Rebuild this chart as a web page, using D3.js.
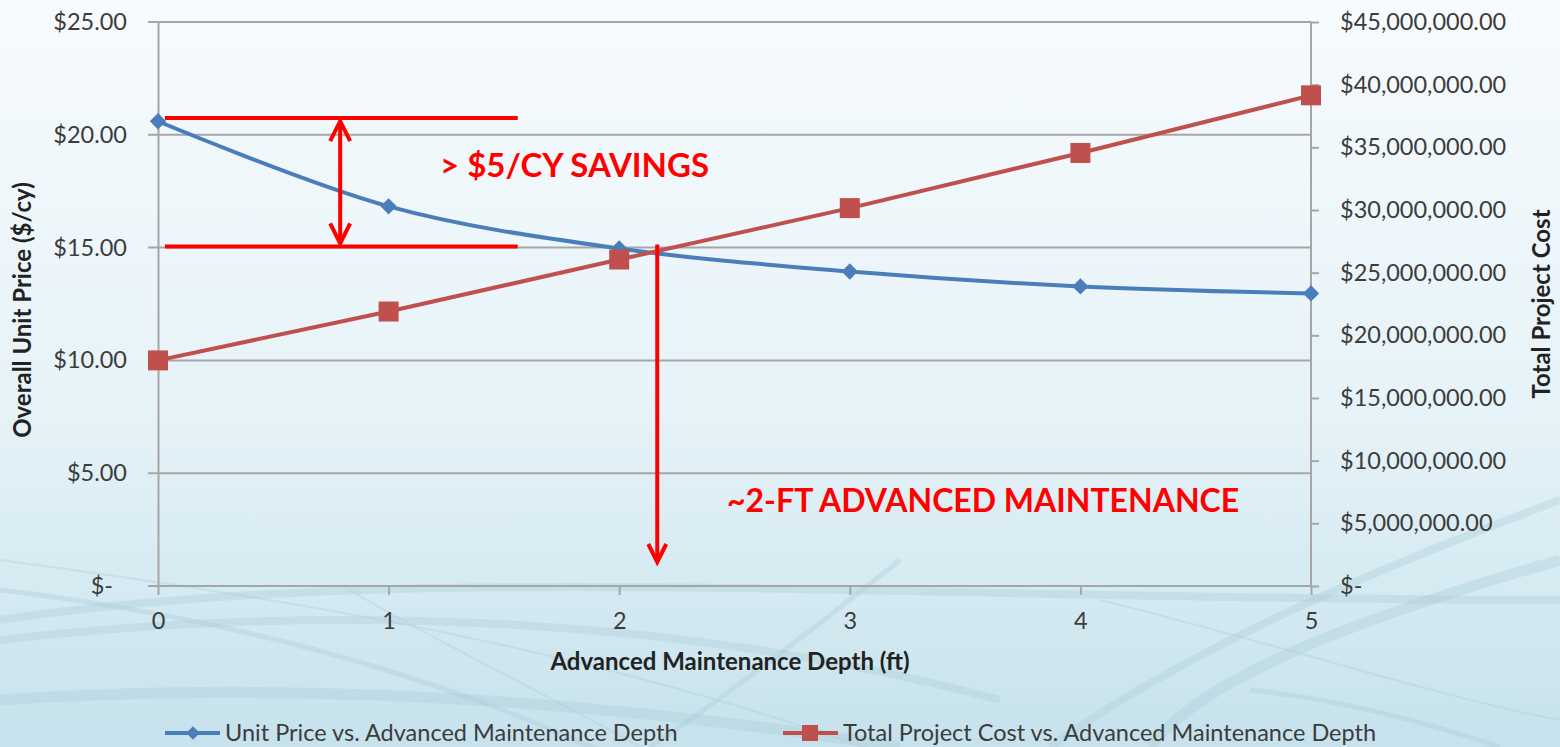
<!DOCTYPE html>
<html>
<head>
<meta charset="utf-8">
<script src="https://cdn.jsdelivr.net/npm/d3@7"></script>
<style>
  body { margin: 0; overflow: hidden; }
  text { font-family: Lato, "Open Sans", sans-serif; }
</style>
</head>
<body>
<svg id="chart" width="1560" height="747"></svg>
<script>
// data
const depths = [0, 1, 2, 3, 4, 5];
const unitPrice = [20.6, 16.83, 14.96, 13.94, 13.28, 12.97];
const projectCost = [18000000, 21900000, 26050000, 30150000, 34550000, 39150000];
const leftTicks = [0, 5, 10, 15, 20, 25];
const rightTicks = [0, 5e6, 10e6, 15e6, 20e6, 25e6, 30e6, 35e6, 40e6, 45e6];
const seriesNames = ["Unit Price vs. Advanced Maintenance Depth", "Total Project Cost vs. Advanced Maintenance Depth"];

// annotations (in data units)
const savingsTop = 20.74, savingsBottom = 15.05;
const savingsArrowX = 0.79;
const savingsLineX = [0.03, 1.56];
const depthArrowX = 2.165;

const W = 1560, H = 747;
const margin = { top: 22, right: 249, bottom: 161, left: 158 };
const blue = "#4a7ebb", red = "#c0504d";
const tickFont = 23.5, titleFont = 24;

const svg = d3.select("#chart");

// background
const defs = svg.append("defs");
const bg = defs.append("linearGradient").attr("id", "bg").attr("x1", 0).attr("y1", 0).attr("x2", 0).attr("y2", 1);
bg.append("stop").attr("offset", "0").attr("stop-color", "#f7fbfd");
bg.append("stop").attr("offset", "0.55").attr("stop-color", "#e6f3f8");
bg.append("stop").attr("offset", "1").attr("stop-color", "#c6e2ec");
svg.append("rect").attr("width", W).attr("height", H).attr("fill", "url(#bg)");

// faint swooshes
const swoosh = svg.append("g").attr("fill", "none").attr("stroke", "#a9cbd8");
const swooshPaths = [
  "M0,560 C300,600 600,650 900,760",
  "M0,590 C250,620 450,680 620,760",
  "M0,640 C350,600 700,620 1000,700",
  "M0,700 C300,680 600,700 900,747",
  "M350,590 C450,650 560,700 640,747",
  "M900,560 C800,640 720,700 650,747",
  "M1560,500 C1400,560 1200,640 1050,747",
  "M1560,560 C1350,620 1200,680 1150,747",
  "M1100,600 C1300,650 1450,700 1560,720",
  "M1250,690 C1350,700 1450,730 1500,747",
  "M0,620 C400,560 900,600 1560,600"
];
swoosh.selectAll("path").data(swooshPaths).enter().append("path")
  .attr("d", d => d)
  .attr("stroke-width", (d, i) => 2 + (i % 4) * 3)
  .attr("stroke-opacity", 0.35);

const x = d3.scaleLinear().domain([0, 5]).range([margin.left, W - margin.right]);
const yL = d3.scaleLinear().domain([0, 25]).range([H - margin.bottom, margin.top]);
const yR = d3.scaleLinear().domain([0, 45e6]).range([H - margin.bottom, margin.top]);

const fmtL = d => d === 0 ? "$-" : "$" + d3.format(".2f")(d);
const fmtR = d => d === 0 ? "$-" : "$" + d3.format(",.2f")(d);

// gridlines
svg.append("g").selectAll("line").data(leftTicks).enter().append("line")
  .attr("x1", x(0) - 10).attr("x2", x(5))
  .attr("y1", d => yL(d)).attr("y2", d => yL(d))
  .attr("stroke", "#a6a6a6").attr("stroke-width", 2);

// left axis
const left = svg.append("g").attr("transform", `translate(${x(0)},0)`)
  .call(d3.axisLeft(yL).tickValues(leftTicks).tickFormat(fmtL).tickSize(0).tickPadding(31));
left.select(".domain").attr("stroke", "#a6a6a6").attr("stroke-width", 2);
left.selectAll("text").attr("font-size", tickFont).attr("fill", "#3c3c3c")
  .attr("dx", d => d === 0 ? -14 : 0);

// right axis
const right = svg.append("g").attr("transform", `translate(${x(5)},0)`)
  .call(d3.axisRight(yR).tickValues(rightTicks).tickFormat(fmtR).tickSize(8).tickPadding(21));
right.select(".domain").attr("stroke", "#a6a6a6").attr("stroke-width", 2).attr("d", `M0,${yR(45e6)}V${yR(0)}`);
right.selectAll(".tick line").attr("stroke", "#a6a6a6").attr("stroke-width", 2);
right.selectAll("text").attr("font-size", tickFont).attr("fill", "#3c3c3c");

// bottom axis
const bottom = svg.append("g").attr("transform", `translate(0,${yL(0)})`)
  .call(d3.axisBottom(x).tickValues(depths).tickFormat(d3.format("d")).tickSize(9).tickPadding(17));
bottom.select(".domain").remove();
bottom.selectAll(".tick line").attr("stroke", "#a6a6a6").attr("stroke-width", 2);
bottom.selectAll("text").attr("font-size", tickFont).attr("fill", "#3c3c3c");

// axis titles
svg.append("text").attr("x", 730).attr("y", 670).attr("text-anchor", "middle")
  .attr("font-size", titleFont).attr("font-weight", "bold").attr("fill", "#222")
  .text("Advanced Maintenance Depth (ft)");
svg.append("text").attr("transform", `translate(31,310) rotate(-90)`)
  .attr("text-anchor", "middle").attr("font-size", titleFont).attr("font-weight", "bold").attr("fill", "#222")
  .text("Overall Unit Price ($/cy)");
svg.append("text").attr("transform", `translate(1550,304) rotate(-90)`)
  .attr("text-anchor", "middle").attr("font-size", titleFont).attr("font-weight", "bold").attr("fill", "#222")
  .text("Total Project Cost");

// series
const blueData = depths.map((d, i) => [d, unitPrice[i]]);
const redData = depths.map((d, i) => [d, projectCost[i]]);

svg.append("path").datum(blueData)
  .attr("d", d3.line().x(d => x(d[0])).y(d => yL(d[1])).curve(d3.curveCatmullRom.alpha(0.5)))
  .attr("fill", "none").attr("stroke", blue).attr("stroke-width", 4);
svg.append("path").datum(redData)
  .attr("d", d3.line().x(d => x(d[0])).y(d => yR(d[1])))
  .attr("fill", "none").attr("stroke", red).attr("stroke-width", 4);

const diamond = d3.symbol().type(d3.symbolDiamond2).size(170);
svg.append("g").selectAll("path").data(blueData).enter().append("path")
  .attr("transform", d => `translate(${x(d[0])},${yL(d[1])})`)
  .attr("d", diamond).attr("fill", blue);
svg.append("g").selectAll("rect").data(redData).enter().append("rect")
  .attr("x", d => x(d[0]) - 10).attr("y", d => yR(d[1]) - 10)
  .attr("width", 20).attr("height", 20).attr("fill", red);

// annotations
const ann = svg.append("g").attr("stroke", "#ff0000").attr("stroke-width", 4).attr("fill", "none");
[savingsTop, savingsBottom].forEach(v => {
  ann.append("line").attr("x1", x(savingsLineX[0])).attr("x2", x(savingsLineX[1]))
    .attr("y1", yL(v)).attr("y2", yL(v));
});
const ax = x(savingsArrowX), aT = yL(savingsTop) + 3, aB = yL(savingsBottom) - 3;
ann.append("line").attr("x1", ax).attr("x2", ax).attr("y1", aT).attr("y2", aB);
ann.append("path").attr("d", `M${ax - 10},${aT + 20}L${ax},${aT}L${ax + 10},${aT + 20}`);
ann.append("path").attr("d", `M${ax - 10},${aB - 20}L${ax},${aB}L${ax + 10},${aB - 20}`);

const dx = x(depthArrowX), dTop = yL(savingsBottom) - 2, dBot = 562;
ann.append("line").attr("x1", dx).attr("x2", dx).attr("y1", dTop).attr("y2", dBot);
ann.append("path").attr("d", `M${dx - 9},${dBot - 18}L${dx},${dBot}L${dx + 9},${dBot - 18}`);

svg.append("text").attr("x", 440).attr("y", 177).attr("font-size", 33).attr("font-weight", "bold")
  .attr("fill", "#ff0000").text("> $5/CY SAVINGS");
svg.append("text").attr("x", 727).attr("y", 512).attr("font-size", 32).attr("font-weight", "bold")
  .attr("fill", "#ff0000").text("~2-FT ADVANCED MAINTENANCE");

// legend
const legend = svg.append("g").attr("transform", "translate(0,733)");
const lg1 = legend.append("g").attr("transform", "translate(165,0)");
lg1.append("line").attr("x1", 0).attr("x2", 55).attr("stroke", blue).attr("stroke-width", 4);
lg1.append("path").attr("transform", "translate(28,0)").attr("d", d3.symbol().type(d3.symbolDiamond2).size(120)).attr("fill", blue);
lg1.append("text").attr("x", 60).attr("y", 8).attr("font-size", tickFont).attr("fill", "#3c3c3c").text(seriesNames[0]);
const lg2 = legend.append("g").attr("transform", "translate(783,0)");
lg2.append("line").attr("x1", 0).attr("x2", 55).attr("stroke", red).attr("stroke-width", 4);
lg2.append("rect").attr("x", 19).attr("y", -8).attr("width", 16).attr("height", 16).attr("fill", red);
lg2.append("text").attr("x", 60).attr("y", 8).attr("font-size", tickFont).attr("fill", "#3c3c3c").text(seriesNames[1]);
</script>
</body>
</html>
